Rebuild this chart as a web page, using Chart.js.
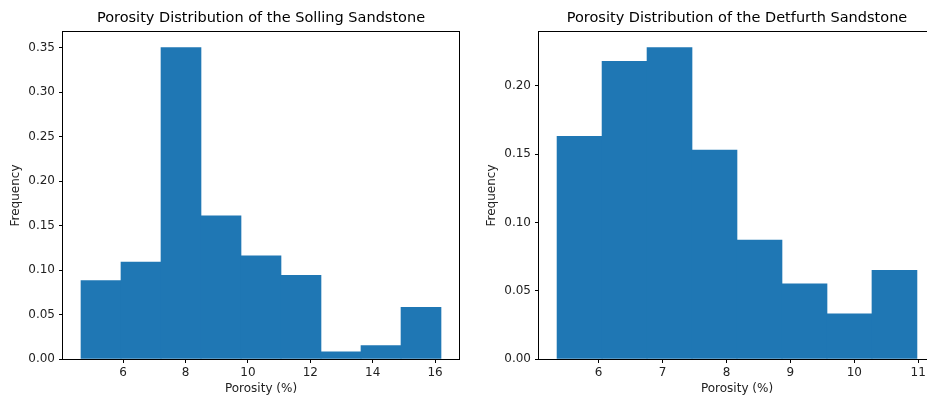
<!DOCTYPE html>
<html>
<head>
<meta charset="utf-8">
<script src="https://cdn.jsdelivr.net/npm/chart.js@4.4.1/dist/chart.umd.min.js"></script>
<style>
html, body { margin:0; padding:0; background:#fff; }
body { width:927px; height:399px; overflow:hidden; position:relative; }
canvas { position:absolute; top:0; }
#solling { left:0; }
#detfurth { left:476px; }
</style>
</head>
<body>
<canvas id="solling" width="470" height="399"></canvas>
<canvas id="detfurth" width="470" height="399"></canvas>
<script>
// histogram bins (porosity %) and frequencies
const sollingEdges = [4.650, 5.932, 7.214, 8.497, 9.779, 11.061, 12.343, 13.625, 14.908, 16.190];
const sollingFreq = [0.088, 0.109, 0.350, 0.161, 0.116, 0.094, 0.008, 0.015, 0.058];
const sollingXTicks = [6, 8, 10, 12, 14, 16];
const sollingYTicks = [0, 0.05, 0.10, 0.15, 0.20, 0.25, 0.30, 0.35];

const detfurthEdges = [5.350, 6.054, 6.758, 7.461, 8.165, 8.869, 9.573, 10.276, 10.980];
const detfurthFreq = [0.163, 0.218, 0.228, 0.153, 0.087, 0.055, 0.033, 0.065];
const detfurthXTicks = [6, 7, 8, 9, 10, 11];
const detfurthYTicks = [0, 0.05, 0.10, 0.15, 0.20];

const FONT = "'DejaVu Sans', sans-serif";
const TXT = '#222';

// matplotlib style box around the plot area
const boxPlugin = {
    id: 'box',
    afterDatasetsDraw(chart) {
        const a = chart.chartArea;
        const c = chart.ctx;
        c.save();
        c.strokeStyle = '#000';
        c.lineWidth = 1;
        c.strokeRect(Math.round(a.left) - 0.5, Math.round(a.top) - 0.5,
            Math.round(a.right) - Math.round(a.left) + 1, Math.round(a.bottom) - Math.round(a.top) + 1);
        c.restore();
    }
};

function makeHist(id, title, edges, freq, xTicks, yTicks, xMin, xMax, yMax) {
    const pts = [];
    for (let i = 0; i < freq.length; i++) {
        pts.push({x: (edges[i] + edges[i + 1]) / 2, y: freq[i]});
    }
    return new Chart(document.getElementById(id).getContext('2d'), {
        type: 'bar',
        data: {
            datasets: [{
                data: pts,
                backgroundColor: '#1f77b4',
                borderWidth: 0,
                barPercentage: 1,
                categoryPercentage: 1
            }]
        },
        options: {
            responsive: false,
            animation: false,
            events: [],
            layout: { padding: { left: 0, right: 11, top: 0, bottom: 0 } },
            plugins: {
                legend: { display: false },
                tooltip: { enabled: false },
                title: {
                    display: true,
                    fullSize: false,
                    text: title,
                    color: '#000',
                    font: { family: FONT, size: 14.5, weight: 'normal', lineHeight: 1.2 },
                    padding: { top: 9.6, bottom: 5 }
                }
            },
            scales: {
                x: {
                    type: 'linear',
                    offset: false,
                    min: xMin,
                    max: xMax,
                    afterBuildTicks: (s) => { s.ticks = xTicks.map(v => ({value: v})); },
                    afterFit: (s) => { s.height = 40; },
                    ticks: {
                        color: TXT,
                        font: { family: FONT, size: 12 },
                        padding: 3,
                        maxRotation: 0,
                        callback: (v) => String(v)
                    },
                    grid: { offset: false, drawOnChartArea: false, drawTicks: true, tickLength: 4, color: '#000' },
                    border: { display: false },
                    title: {
                        display: true,
                        text: 'Porosity (%)',
                        color: TXT,
                        font: { family: FONT, size: 12 },
                        padding: { top: 0, bottom: 2.5 }
                    }
                },
                y: {
                    type: 'linear',
                    min: 0,
                    max: yMax,
                    afterBuildTicks: (s) => { s.ticks = yTicks.map(v => ({value: v})); },
                    afterFit: (s) => { s.width = 63; },
                    ticks: {
                        color: TXT,
                        font: { family: FONT, size: 12 },
                        padding: 4,
                        callback: (v) => v.toFixed(2)
                    },
                    grid: { drawOnChartArea: false, drawTicks: true, tickLength: 4, color: '#000' },
                    border: { display: false },
                    title: {
                        display: true,
                        text: 'Frequency',
                        color: TXT,
                        font: { family: FONT, size: 12 },
                        padding: { top: 8.5, bottom: 0 }
                    }
                }
            }
        },
        plugins: [boxPlugin]
    });
}

makeHist('solling', 'Porosity Distribution of the Solling Sandstone',
    sollingEdges, sollingFreq, sollingXTicks, sollingYTicks, 4.073, 16.767, 0.3675);
makeHist('detfurth', 'Porosity Distribution of the Detfurth Sandstone',
    detfurthEdges, detfurthFreq, detfurthXTicks, detfurthYTicks, 5.068, 11.262, 0.2394);
</script>
</body>
</html>
